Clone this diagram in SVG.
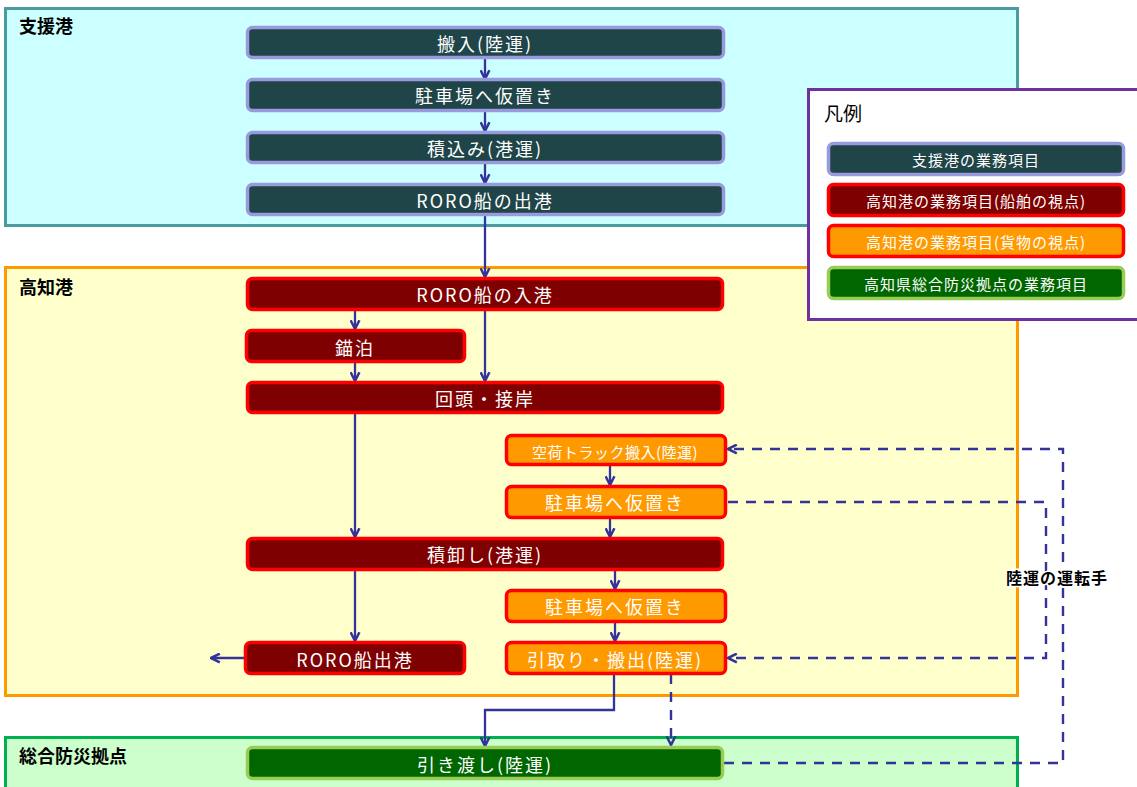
<svg xmlns="http://www.w3.org/2000/svg" width="1137" height="787" viewBox="0 0 1137 787">
<defs>
<style>
.t{font-family:"Noto Sans CJK JP","Noto Sans",sans-serif;fill:#fff;text-anchor:middle;dominant-baseline:central}
.big{font-size:18px;letter-spacing:2px}
.sm{font-size:15px;letter-spacing:0.5px}
.lg{font-size:15px;letter-spacing:1px}
.hd{font-family:"Noto Sans CJK JP",sans-serif;font-weight:bold;font-size:18px;fill:#000}
.sp{fill:#1F4548;stroke:#9999DD;stroke-width:3.5}
.kr{fill:#7F0000;stroke:#FF0000;stroke-width:3.5}
.ko{fill:#FF9900;stroke:#FF0000;stroke-width:3.5}
.gr{fill:#006600;stroke:#99CC55;stroke-width:3.5}
.c{fill:none;stroke:#333399;stroke-width:2.3}
.d{fill:none;stroke:#333399;stroke-width:2.4;stroke-dasharray:10,8}
</style>
<marker id="a" viewBox="0 0 10 10" refX="9" refY="5" markerWidth="11" markerHeight="11" orient="auto" markerUnits="userSpaceOnUse">
<path d="M1,1 L9,5 L1,9" fill="none" stroke="#333399" stroke-width="2.3"/>
</marker>
</defs>

<g id="area-shienko">
<rect x="5.5" y="8.5" width="1012" height="217" fill="#CCFFFF" stroke="#4A9BA0" stroke-width="3"/>
<text class="hd" x="19" y="33">支援港</text>
</g>
<g id="area-kochiko">
<rect x="5.5" y="267.5" width="1012" height="428" fill="#FFFFCC" stroke="#FF9900" stroke-width="3"/>
<text class="hd" x="19" y="294">高知港</text>
</g>
<g id="area-bosai">
<rect x="5.5" y="737.5" width="1012" height="60" fill="#CCFFCC" stroke="#00B050" stroke-width="3"/>
<text class="hd" x="19" y="763">総合防災拠点</text>
</g>

<g id="connectors">
<line class="c" x1="485" y1="58" x2="485" y2="79" marker-end="url(#a)"/>
<line class="c" x1="485" y1="111" x2="485" y2="131" marker-end="url(#a)"/>
<line class="c" x1="485" y1="163" x2="485" y2="183" marker-end="url(#a)"/>
<line class="c" x1="485" y1="215" x2="485" y2="277" marker-end="url(#a)"/>
<line class="c" x1="355" y1="310" x2="355" y2="329" marker-end="url(#a)"/>
<line class="c" x1="355" y1="362" x2="355" y2="381" marker-end="url(#a)"/>
<line class="c" x1="485" y1="310" x2="485" y2="381" marker-end="url(#a)"/>
<line class="c" x1="355" y1="413" x2="355" y2="537" marker-end="url(#a)"/>
<line class="c" x1="610" y1="465" x2="610" y2="485" marker-end="url(#a)"/>
<line class="c" x1="610" y1="518" x2="610" y2="537" marker-end="url(#a)"/>
<line class="c" x1="615" y1="570" x2="615" y2="589" marker-end="url(#a)"/>
<line class="c" x1="355" y1="570" x2="355" y2="641" marker-end="url(#a)"/>
<line class="c" x1="615" y1="622" x2="615" y2="641" marker-end="url(#a)"/>
<line class="c" x1="245" y1="658" x2="211" y2="658" marker-end="url(#a)"/>
<polyline class="c" points="614,674 614,710 485,710 485,746" marker-end="url(#a)"/>
<line class="d" x1="671" y1="674" x2="671" y2="745" marker-end="url(#a)"/>
<polyline class="d" points="724,763 1063,763 1063,449 728,449" marker-end="url(#a)"/>
<polyline class="d" points="728,502 1046,502 1046,658 728,658" marker-end="url(#a)"/>
<text x="1057" y="577" font-family="Noto Sans CJK JP,sans-serif" font-weight="bold" font-size="16" letter-spacing="1" fill="#000" text-anchor="middle" dominant-baseline="central" stroke="#fff" stroke-width="3" paint-order="stroke">陸運の運転手</text>
</g>

<g id="n1"><rect class="sp" x="247.5" y="27.5" width="476" height="30" rx="5"/><text class="t big" x="485" y="43">搬入(陸運)</text></g>
<g id="n2"><rect class="sp" x="247.5" y="79.5" width="476" height="31" rx="5"/><text class="t big" x="485" y="95">駐車場へ仮置き</text></g>
<g id="n3"><rect class="sp" x="247.5" y="132.5" width="476" height="30" rx="5"/><text class="t big" x="485" y="148">積込み(港運)</text></g>
<g id="n4"><rect class="sp" x="247.5" y="184.5" width="476" height="30" rx="5"/><text class="t big" x="485" y="200">RORO船の出港</text></g>

<g id="n5"><rect class="kr" x="247.5" y="278.5" width="475" height="31" rx="5"/><text class="t big" x="485" y="294">RORO船の入港</text></g>
<g id="n6"><rect class="kr" x="246.5" y="330.5" width="218" height="31" rx="5"/><text class="t big" x="355" y="347">錨泊</text></g>
<g id="n7"><rect class="kr" x="247.5" y="382.5" width="475" height="30" rx="5"/><text class="t big" x="485" y="398">回頭・接岸</text></g>
<g id="n8"><rect class="ko" x="506.5" y="435.5" width="219" height="29" rx="5"/><text class="t sm" x="615" y="451">空荷トラック搬入(陸運)</text></g>
<g id="n9"><rect class="ko" x="506.5" y="486.5" width="219" height="31" rx="5"/><text class="t big" x="615" y="502">駐車場へ仮置き</text></g>
<g id="n10"><rect class="kr" x="247.5" y="538.5" width="475" height="31" rx="5"/><text class="t big" x="485" y="554">積卸し(港運)</text></g>
<g id="n11"><rect class="ko" x="506.5" y="590.5" width="219" height="31" rx="5"/><text class="t big" x="615" y="606">駐車場へ仮置き</text></g>
<g id="n12"><rect class="kr" x="245.5" y="642.5" width="219" height="31" rx="5"/><text class="t big" x="355" y="659">RORO船出港</text></g>
<g id="n13"><rect class="ko" x="506.5" y="642.5" width="219" height="31" rx="5"/><text class="t big" x="615" y="659">引取り・搬出(陸運)</text></g>

<g id="n14"><rect class="gr" x="247.5" y="747.5" width="475" height="31" rx="5"/><text class="t big" x="485" y="764">引き渡し(陸運)</text></g>

<g id="legend">
<rect x="808.5" y="89.5" width="340" height="230" fill="#fff" stroke="#7030A0" stroke-width="3"/>
<text x="824" y="112" font-family="Noto Sans CJK JP,sans-serif" font-size="19" fill="#000" dominant-baseline="central">凡例</text>
<rect class="sp" x="828.5" y="143.5" width="295" height="31" rx="5"/><text class="t lg" x="976" y="159">支援港の業務項目</text>
<rect class="kr" x="828.5" y="184.5" width="295" height="31" rx="5"/><text class="t lg" x="976" y="200">高知港の業務項目(船舶の視点)</text>
<rect class="ko" x="828.5" y="225.5" width="295" height="31" rx="5"/><text class="t lg" x="976" y="241">高知港の業務項目(貨物の視点)</text>
<rect class="gr" x="828.5" y="267.5" width="295" height="31" rx="5"/><text class="t lg" x="976" y="283">高知県総合防災拠点の業務項目</text>
</g>
</svg>
